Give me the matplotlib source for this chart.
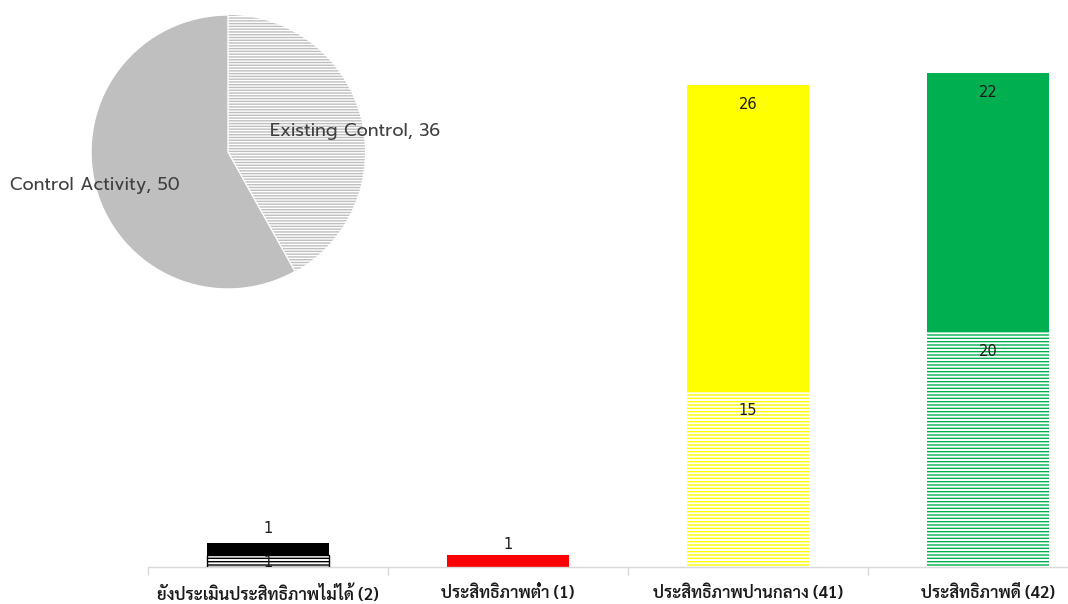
import matplotlib
matplotlib.use("Agg")
import matplotlib.pyplot as plt
import numpy as np

# Risk-control effectiveness by level
categories = ["ยังประเมินประสิทธิภาพไม่ได้ (2)", "ประสิทธิภาพต่ำ (1)",
              "ประสิทธิภาพปานกลาง (41)", "ประสิทธิภาพดี (42)"]
existing_control = [1, 0, 15, 20]
control_activity = [1, 1, 26, 22]
bar_colors = ["#000000", "#FF0000", "#FFFF00", "#00B050"]

pie_labels = ["Existing Control", "Control Activity"]
pie_values = [sum(existing_control), sum(control_activity)]

plt.rcParams["hatch.linewidth"] = 1.0

fig = plt.figure(figsize=(10.68, 6.04), dpi=100)
W, H = 1068, 604

# Bar chart axes (extends slightly beyond the right edge)
x0, x1, yb, yt = 148, 1108, 567, 20
ax = fig.add_axes([x0 / W, 1 - yb / H, (x1 - x0) / W, (yb - yt) / H])
ymax = 41 * (yb - yt) / (567 - 85)
x = np.arange(len(categories))
width = 0.51

for i in range(len(categories)):
    if existing_control[i] > 0:
        ax.bar(x[i], existing_control[i], width, color="white",
               edgecolor=bar_colors[i], hatch="-----", linewidth=0, zorder=2)
    ax.bar(x[i], control_activity[i], width, bottom=existing_control[i],
           color=bar_colors[i], linewidth=0, zorder=2)

# Outline for the black hatched segment
ax.bar(x[0], existing_control[0], width, fill=False, edgecolor="#000000",
       linewidth=1.0, zorder=3)

# Value labels: inside the top of tall segments, nudged for short ones
def label(xi, value, top, offset):
    ax.annotate(str(value), (xi, top), xytext=(0, offset),
                textcoords="offset points", ha="center", va="center",
                fontsize=10.5, color="#1a1a1a", family="DejaVu Sans", zorder=5)

ec_offsets = [-5, 0, -14, -14]
ca_offsets = [11, 8, -14, -14]
for i in range(len(categories)):
    if existing_control[i] > 0:
        label(x[i], existing_control[i], existing_control[i], ec_offsets[i])
    label(x[i], control_activity[i], existing_control[i] + control_activity[i],
          ca_offsets[i])

ax.set_xlim(-0.5, len(categories) - 0.5)
ax.set_ylim(0, ymax)
for s in ["top", "right", "left"]:
    ax.spines[s].set_visible(False)
ax.spines["bottom"].set_color("#D9D9D9")
ax.spines["bottom"].set_linewidth(1.0)
ax.set_yticks([])
ax.set_xticks(np.arange(len(categories) + 1) - 0.5)
ax.set_xticklabels([])
ax.set_xticks(x, minor=True)
ax.set_xticklabels(categories, minor=True, family="Sarabun",
                   fontweight="semibold", fontsize=12, color="#1a1a1a")
ax.tick_params(axis="x", which="major", length=6, color="#D9D9D9", width=1)
ax.tick_params(axis="x", which="minor", length=0, pad=13)

# Pie inset summarising both control types
cx, cy, r = 228, 152, 137
pax = fig.add_axes([(cx - r) / W, 1 - (cy + r) / H, 2 * r / W, 2 * r / H])
wedges, _ = pax.pie(pie_values, startangle=90, counterclock=False,
                    colors=["white", "#BFBFBF"],
                    wedgeprops=dict(linewidth=0))
wedges[0].set_hatch("------")
wedges[0].set_edgecolor("#BFBFBF")
wedges[0].set_linewidth(0)
wedges[1].set_edgecolor("white")
wedges[1].set_linewidth(1.0)
pax.set_xlim(-1, 1)
pax.set_ylim(-1, 1)
pax.set_aspect("equal")

pie_text = dict(fontsize=12.8, color="#404040", family="Prompt",
                fontweight="normal", va="center", ha="left")
pax.text(0.307, 0.153, f"{pie_labels[0]}, {pie_values[0]}", **pie_text)
pax.text(-1.59, -0.248, f"{pie_labels[1]}, {pie_values[1]}", **pie_text,
         clip_on=False)

fig.savefig("out.png", dpi=100)
